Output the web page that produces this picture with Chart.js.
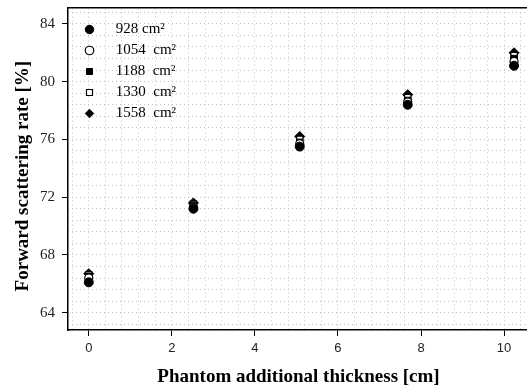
<!DOCTYPE html>
<html>
<head>
<meta charset="utf-8">
<script src="https://cdn.jsdelivr.net/npm/chart.js@4"></script>
<style>
  body { margin: 0; background: #fff; overflow: hidden; }
  #wrap { width: 535px; height: 391px; }
</style>
</head>
<body>
<div id="wrap"><canvas id="scatter-chart"></canvas></div>
<script>
// phantom additional thickness (cm)
var thickness = [0, 2.52, 5.08, 7.68, 10.24];
var areaLabels = ['928 cm\u00b2', '1054  cm\u00b2', '1188  cm\u00b2', '1330  cm\u00b2', '1558  cm\u00b2'];
var rate928 = [66.1, 71.2, 75.5, 78.4, 81.1];
var rate1054 = [66.4, 71.3, 75.7, 78.6, 81.4];
var rate1188 = [66.5, 71.4, 75.8, 78.7, 81.6];
var rate1330 = [66.6, 71.5, 76.0, 78.9, 81.8];
var rate1558 = [66.7, 71.6, 76.2, 79.1, 82.0];
var xTicks = [0, 2, 4, 6, 8, 10];
var yTicks = [64, 68, 72, 76, 80, 84];

function pts(ys) {
    return thickness.map(function(x, i) { return {x: x, y: ys[i]}; });
}

function gridTicks(min, max, step) {
    var out = [];
    for (var v = Math.ceil(min / step) * step; v <= max; v += step) out.push({value: v});
    return out;
}

function noPad(axis) {
    axis.paddingTop = 0; axis.paddingBottom = 0;
    axis.paddingLeft = 0; axis.paddingRight = 0;
}

var serif = "'Liberation Serif', 'Times New Roman', serif";

// nudge the legend inside the plot box
var legendNudge = {
    id: 'legendNudge',
    afterLayout: function(c) {
        if (c.legend) {
            c.legend.left += 8;
            c.legend.top += 16;
        }
    }
};

var ctx = document.getElementById('scatter-chart').getContext('2d');
var chart = new Chart(ctx, {
    type: 'scatter',
    data: {
        datasets: [
            {label: areaLabels[0], data: pts(rate928), pointStyle: 'circle', pointRadius: 4.5,
             backgroundColor: '#000', borderColor: '#000', borderWidth: 1},
            {label: areaLabels[1], data: pts(rate1054), pointStyle: 'circle', pointRadius: 4,
             backgroundColor: '#fff', borderColor: '#000', borderWidth: 1.2},
            {label: areaLabels[2], data: pts(rate1188), pointStyle: 'rect', pointRadius: 4.5,
             backgroundColor: '#000', borderColor: '#000', borderWidth: 1},
            {label: areaLabels[3], data: pts(rate1330), pointStyle: 'rect', pointRadius: 4.5,
             backgroundColor: '#fff', borderColor: '#000', borderWidth: 1.2},
            {label: areaLabels[4], data: pts(rate1558), pointStyle: 'rectRot', pointRadius: 5,
             backgroundColor: '#000', borderColor: '#000', borderWidth: 1}
        ]
    },
    plugins: [legendNudge],
    options: {
        responsive: true,
        maintainAspectRatio: false,
        animation: false,
        layout: {padding: {top: 8, right: 0, left: 0, bottom: 0}},
        plugins: {
            tooltip: {enabled: false},
            legend: {
                position: 'chartArea',
                align: 'start',
                labels: {
                    usePointStyle: true,
                    boxHeight: 6,
                    padding: 6,
                    color: '#000',
                    font: {family: serif, size: 15},
                    generateLabels: function(c) {
                        var items = Chart.defaults.plugins.legend.labels.generateLabels(c);
                        items.forEach(function(it) { it.text = '   ' + it.text; });
                        return items;
                    }
                }
            }
        },
        scales: {
            x: {
                type: 'linear',
                position: 'bottom',
                min: -0.5,
                max: 10.6,
                afterBuildTicks: function(axis) { axis.ticks = xTicks.map(function(v) { return {value: v}; }); },
                afterFit: function(axis) { axis.height = 61; noPad(axis); },
                grid: {drawOnChartArea: false, tickLength: 6, tickColor: '#000', tickWidth: 1},
                border: {color: '#000', width: 1.5},
                ticks: {color: '#222', font: {family: "'Liberation Sans', Arial, sans-serif", size: 13}, padding: 5, maxRotation: 0},
                title: {display: true, text: 'Phantom additional thickness [cm]', color: '#000',
                        font: {family: serif, size: 19, weight: 'bold'}, padding: {top: 0, bottom: 3}}
            },
            y: {
                type: 'linear',
                position: 'left',
                min: 62.8,
                max: 85.1,
                afterBuildTicks: function(axis) { axis.ticks = yTicks.map(function(v) { return {value: v}; }); },
                afterFit: function(axis) { axis.width = 68; noPad(axis); },
                grid: {drawOnChartArea: false, tickLength: 6, tickColor: '#000', tickWidth: 1},
                border: {color: '#000', width: 1.5},
                ticks: {color: '#222', font: {family: serif, size: 15}, padding: 7},
                title: {display: true, text: 'Forward scattering rate [%]   ', color: '#000',
                        font: {family: serif, size: 19, weight: 'bold'}, padding: {top: 12, bottom: 0}}
            },
            xGrid: {
                type: 'linear',
                position: 'top',
                min: -0.5,
                max: 10.6,
                afterBuildTicks: function(axis) { axis.ticks = gridTicks(-0.5, 10.6, 0.4); },
                afterFit: function(axis) { axis.height = 0; noPad(axis); },
                ticks: {display: false},
                grid: {drawTicks: false, color: '#c0c0c0', lineWidth: 1},
                border: {color: '#000', width: 1.5, dash: [1, 3]}
            },
            yGrid: {
                type: 'linear',
                position: 'right',
                min: 62.8,
                max: 85.1,
                afterBuildTicks: function(axis) { axis.ticks = gridTicks(62.8, 85.1, 0.8); },
                afterFit: function(axis) { axis.width = 0; noPad(axis); },
                ticks: {display: false},
                grid: {drawTicks: false, color: '#c0c0c0', lineWidth: 1},
                border: {color: '#000', width: 1.5, dash: [1, 3]}
            }
        }
    }
});
</script>
</body>
</html>
